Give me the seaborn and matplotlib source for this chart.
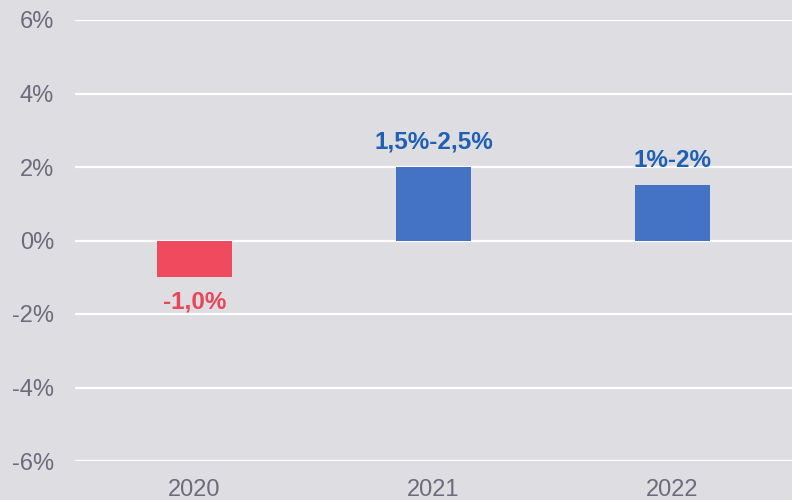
import matplotlib
matplotlib.use("Agg")
import matplotlib.pyplot as plt
import seaborn as sns
import pandas as pd

years = ["2020", "2021", "2022"]
values = [-1.0, 2.0, 1.5]
labels = ["-1,0%", "1,5%-2,5%", "1%-2%"]
bar_colors = ["#ef4a5d", "#4472c4", "#4472c4"]
label_colors = ["#e8465b", "#1f5fb4", "#1f5fb4"]
yticks = [-6, -4, -2, 0, 2, 4, 6]
ytick_labels = ["-6%", "-4%", "-2%", "0%", "2%", "4%", "6%"]

bg = "#dedde2"
sns.set_theme(style="white")
plt.rcParams["font.family"] = ["Liberation Sans", "DejaVu Sans"]

fig = plt.figure(figsize=(7.92, 5.0), dpi=100, facecolor=bg)
ax = fig.add_axes([75/792, 1 - 461/500, 1 - 75/792, (461 - 20)/500])
ax.set_facecolor(bg)

df = pd.DataFrame({"year": years, "value": values})
sns.barplot(data=df, x="year", y="value", hue="year", palette=bar_colors,
            legend=False, width=0.317, ax=ax, zorder=3, saturation=1,
            linewidth=0, edgecolor="none")

ax.set_ylim(-6, 6)
ax.set_xlim(-0.5, 2.5)
ax.set_yticks(yticks)
ax.set_yticklabels(ytick_labels)
for y in yticks:
    ax.axhline(y, color="white", lw=1.6, zorder=1)
for s in ax.spines.values():
    s.set_visible(False)
ax.tick_params(axis="both", length=0, labelsize=17, colors="#6d6b7b")
ax.tick_params(axis="y", pad=15)
ax.tick_params(axis="x", pad=13)
ax.set_xlabel("")
ax.set_ylabel("")

for i, (v, lab, c) in enumerate(zip(values, labels, label_colors)):
    off = 18 if v >= 0 else -18
    ax.annotate(lab, xy=(i, v), xytext=(0, off), textcoords="offset points",
                ha="center", va="center", fontsize=17.5, fontweight="bold", color=c)

fig.savefig("out.png", dpi=100, facecolor=bg)
